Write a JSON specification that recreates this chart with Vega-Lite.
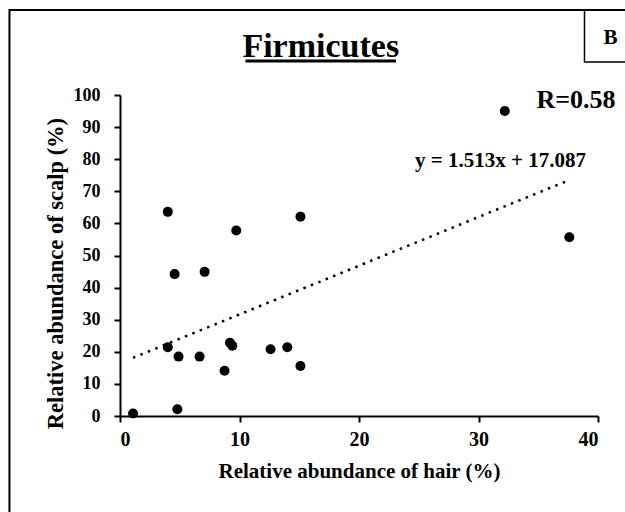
{
  "$schema": "https://vega.github.io/schema/vega-lite/v6.json",
  "width": 478,
  "height": 321,
  "autosize": {"type": "none"},
  "padding": {"left": 120, "top": 95, "right": 27, "bottom": 96},
  "background": "white",
  "config": {
    "view": {"stroke": null},
    "font": "Liberation Serif",
    "axis": {
      "grid": false,
      "domainColor": "black",
      "domainWidth": 2,
      "tickColor": "black",
      "tickWidth": 2,
      "tickSize": 6,
      "labelFont": "Liberation Serif",
      "labelFontWeight": "bold",
      "labelColor": "black",
      "labelOverlap": false,
      "titleFont": "Liberation Serif",
      "titleFontWeight": "bold",
      "titleColor": "black"
    }
  },
  "data": {
    "values": [
      {"hair": 1.09, "scalp": 0.8},
      {"hair": 4.8, "scalp": 2.1},
      {"hair": 4.0, "scalp": 63.6},
      {"hair": 4.57, "scalp": 44.2},
      {"hair": 7.08, "scalp": 44.9},
      {"hair": 9.73, "scalp": 57.8},
      {"hair": 15.1, "scalp": 62.1},
      {"hair": 4.0, "scalp": 21.4},
      {"hair": 4.9, "scalp": 18.5},
      {"hair": 6.66, "scalp": 18.5},
      {"hair": 8.75, "scalp": 14.1},
      {"hair": 9.2, "scalp": 22.8},
      {"hair": 9.4, "scalp": 21.9},
      {"hair": 12.6, "scalp": 20.8},
      {"hair": 14.0, "scalp": 21.4},
      {"hair": 15.1, "scalp": 15.6},
      {"hair": 32.2, "scalp": 95.0},
      {"hair": 37.6, "scalp": 55.7}
    ]
  },
  "layer": [
    {
      "transform": [{"regression": "scalp", "on": "hair"}],
      "mark": {"type": "line", "color": "black", "strokeWidth": 2.5, "strokeDash": [2.5, 5.5]},
      "encoding": {
        "x": {"field": "hair", "type": "quantitative", "scale": {"domain": [0, 40], "nice": false}, "axis": {"values": [0, 10, 20, 30, 40], "title": "Relative abundance of hair (%)", "labelFontSize": 20, "labelPadding": 7, "titleFontSize": 21, "titlePadding": 11}},
        "y": {"field": "scalp", "type": "quantitative", "scale": {"domain": [0, 100], "nice": false}, "axis": {"values": [0, 10, 20, 30, 40, 50, 60, 70, 80, 90, 100], "title": "Relative abundance of scalp (%)", "labelFontSize": 18, "labelPadding": 14, "titleFontSize": 22.5, "titlePadding": 6, "titleY": 178}}
      }
    },
    {
      "mark": {"type": "point", "filled": true, "size": 100, "color": "black", "opacity": 1},
      "encoding": {
        "x": {"field": "hair", "type": "quantitative", "axis": {"values": [0, 10, 20, 30, 40], "title": "Relative abundance of hair (%)", "labelFontSize": 20, "labelPadding": 7, "titleFontSize": 21, "titlePadding": 11}},
        "y": {"field": "scalp", "type": "quantitative", "axis": {"values": [0, 10, 20, 30, 40, 50, 60, 70, 80, 90, 100], "title": "Relative abundance of scalp (%)", "labelFontSize": 18, "labelPadding": 14, "titleFontSize": 22.5, "titlePadding": 6, "titleY": 178}}
      }
    },
    {
      "data": {"values": [{"label": "frame"}]},
      "mark": {"type": "rect", "fill": "transparent", "stroke": "black", "strokeWidth": 2},
      "encoding": {
        "x": {"datum": -9.25, "type": "quantitative", "axis": {"values": [0, 10, 20, 30, 40], "title": "Relative abundance of hair (%)", "labelFontSize": 20, "labelPadding": 7, "titleFontSize": 21, "titlePadding": 11}},
        "x2": {"datum": 45},
        "y": {"datum": 126.5, "type": "quantitative", "axis": {"values": [0, 10, 20, 30, 40, 50, 60, 70, 80, 90, 100], "title": "Relative abundance of scalp (%)", "labelFontSize": 18, "labelPadding": 14, "titleFontSize": 22.5, "titlePadding": 6, "titleY": 178}},
        "y2": {"datum": -40}
      }
    },
    {
      "data": {"values": [{"label": "B"}]},
      "mark": {"type": "rect", "fill": "transparent", "stroke": "black", "strokeWidth": 1.5},
      "encoding": {
        "x": {"datum": 38.87, "type": "quantitative", "axis": {"values": [0, 10, 20, 30, 40], "title": "Relative abundance of hair (%)", "labelFontSize": 20, "labelPadding": 7, "titleFontSize": 21, "titlePadding": 11}},
        "x2": {"datum": 45},
        "y": {"datum": 126.5, "type": "quantitative", "axis": {"values": [0, 10, 20, 30, 40, 50, 60, 70, 80, 90, 100], "title": "Relative abundance of scalp (%)", "labelFontSize": 18, "labelPadding": 14, "titleFontSize": 22.5, "titlePadding": 6, "titleY": 178}},
        "y2": {"datum": 110.3}
      }
    },
    {
      "data": {"values": [{"label": "B"}]},
      "mark": {"type": "text", "font": "Liberation Serif", "fontWeight": "bold", "fontSize": 21, "baseline": "middle", "align": "center", "fill": "black"},
      "encoding": {
        "text": {"field": "label"},
        "x": {"datum": 41.05, "type": "quantitative", "axis": {"values": [0, 10, 20, 30, 40], "title": "Relative abundance of hair (%)", "labelFontSize": 20, "labelPadding": 7, "titleFontSize": 21, "titlePadding": 11}},
        "y": {"datum": 117.8, "type": "quantitative", "axis": {"values": [0, 10, 20, 30, 40, 50, 60, 70, 80, 90, 100], "title": "Relative abundance of scalp (%)", "labelFontSize": 18, "labelPadding": 14, "titleFontSize": 22.5, "titlePadding": 6, "titleY": 178}}
      }
    },
    {
      "data": {"values": [{"label": "Firmicutes"}]},
      "mark": {"type": "text", "font": "Liberation Serif", "fontWeight": "bold", "fontSize": 34, "baseline": "alphabetic", "align": "center", "fill": "black"},
      "encoding": {
        "text": {"field": "label"},
        "x": {"datum": 16.8, "type": "quantitative", "axis": {"values": [0, 10, 20, 30, 40], "title": "Relative abundance of hair (%)", "labelFontSize": 20, "labelPadding": 7, "titleFontSize": 21, "titlePadding": 11}},
        "y": {"datum": 111.8, "type": "quantitative", "axis": {"values": [0, 10, 20, 30, 40, 50, 60, 70, 80, 90, 100], "title": "Relative abundance of scalp (%)", "labelFontSize": 18, "labelPadding": 14, "titleFontSize": 22.5, "titlePadding": 6, "titleY": 178}}
      }
    },
    {
      "data": {"values": [{"label": "underline"}]},
      "mark": {"type": "rule", "color": "black", "strokeWidth": 3},
      "encoding": {
        "x": {"datum": 10.5, "type": "quantitative", "axis": {"values": [0, 10, 20, 30, 40], "title": "Relative abundance of hair (%)", "labelFontSize": 20, "labelPadding": 7, "titleFontSize": 21, "titlePadding": 11}},
        "x2": {"datum": 23.1},
        "y": {"datum": 110.6, "type": "quantitative", "axis": {"values": [0, 10, 20, 30, 40, 50, 60, 70, 80, 90, 100], "title": "Relative abundance of scalp (%)", "labelFontSize": 18, "labelPadding": 14, "titleFontSize": 22.5, "titlePadding": 6, "titleY": 178}}
      }
    },
    {
      "data": {"values": [{"label": "R=0.58"}]},
      "mark": {"type": "text", "font": "Liberation Serif", "fontWeight": "bold", "fontSize": 26, "baseline": "middle", "align": "center", "fill": "black"},
      "encoding": {
        "text": {"field": "label"},
        "x": {"datum": 38.16, "type": "quantitative", "axis": {"values": [0, 10, 20, 30, 40], "title": "Relative abundance of hair (%)", "labelFontSize": 20, "labelPadding": 7, "titleFontSize": 21, "titlePadding": 11}},
        "y": {"datum": 98.4, "type": "quantitative", "axis": {"values": [0, 10, 20, 30, 40, 50, 60, 70, 80, 90, 100], "title": "Relative abundance of scalp (%)", "labelFontSize": 18, "labelPadding": 14, "titleFontSize": 22.5, "titlePadding": 6, "titleY": 178}}
      }
    },
    {
      "data": {"values": [{"label": "y = 1.513x + 17.087"}]},
      "mark": {"type": "text", "font": "Liberation Serif", "fontWeight": "bold", "fontSize": 21, "baseline": "middle", "align": "center", "fill": "black"},
      "encoding": {
        "text": {"field": "label"},
        "x": {"datum": 31.84, "type": "quantitative", "axis": {"values": [0, 10, 20, 30, 40], "title": "Relative abundance of hair (%)", "labelFontSize": 20, "labelPadding": 7, "titleFontSize": 21, "titlePadding": 11}},
        "y": {"datum": 79.3, "type": "quantitative", "axis": {"values": [0, 10, 20, 30, 40, 50, 60, 70, 80, 90, 100], "title": "Relative abundance of scalp (%)", "labelFontSize": 18, "labelPadding": 14, "titleFontSize": 22.5, "titlePadding": 6, "titleY": 178}}
      }
    }
  ]
}
